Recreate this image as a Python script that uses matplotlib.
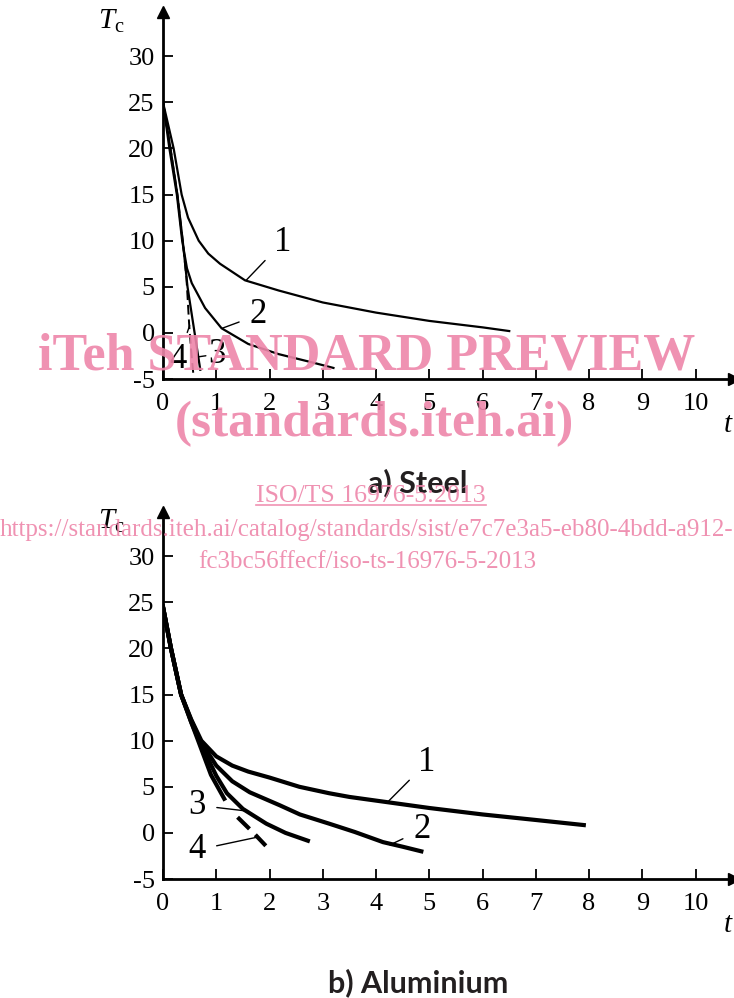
import numpy as np
import matplotlib
matplotlib.use("Agg")
import matplotlib.pyplot as plt
from matplotlib.lines import Line2D

plt.rcParams['font.family'] = ['Liberation Serif', 'DejaVu Serif']
plt.rcParams['axes.unicode_minus'] = False
plt.rcParams['mathtext.fontset'] = 'custom'
plt.rcParams['mathtext.it'] = 'Liberation Serif:italic'
plt.rcParams['mathtext.rm'] = 'Liberation Serif'

# a) Steel
st_t1 = [0, 0.2, 0.35, 0.47, 0.67, 0.85, 1.07, 1.54, 2.17, 3.0, 4.0, 5.0, 6.0, 6.5]
st_T1 = [25, 20, 15, 12.5, 10, 8.6, 7.5, 5.7, 4.6, 3.3, 2.2, 1.3, 0.6, 0.2]
st_t2 = [0, 0.12, 0.26, 0.36, 0.45, 0.54, 0.79, 1.1, 1.6, 2.17, 2.8, 3.2]
st_T2 = [25, 20, 15, 10, 7, 5.4, 2.7, 0.5, -1.2, -2.3, -3.2, -3.8]
st_t3 = [0, 0.14, 0.27, 0.37, 0.46, 0.58, 0.7]
st_T3 = [25, 20, 15, 10, 5, 0.5, -4.0]
st_t4 = [0, 0.14, 0.27, 0.37, 0.44, 0.49, 0.53, 0.57]
st_T4 = [25, 20, 15, 10, 6, 1, -2, -4.5]

# b) Aluminium
al_t1 = [0, 0.15, 0.34, 0.53, 0.72, 1.0, 1.3, 1.6, 2.0, 2.56, 3.12, 3.5, 4.0, 5.0, 6.0, 7.0, 7.9]
al_T1 = [24.5, 20, 15, 12.3, 10, 8.3, 7.3, 6.65, 6.0, 5.0, 4.3, 3.9, 3.5, 2.7, 2.0, 1.4, 0.85]
al_t2 = [0, 0.15, 0.34, 0.53, 0.7, 1.0, 1.3, 1.63, 2.19, 2.57, 3.12, 3.6, 4.13, 4.5, 4.85]
al_T2 = [24.5, 20, 15, 12.2, 10, 7.3, 5.6, 4.4, 3.0, 2.0, 1.0, 0.1, -1.0, -1.5, -2.0]
al_t3 = [0, 0.15, 0.34, 0.53, 0.68, 1.0, 1.2, 1.5, 1.94, 2.3, 2.72]
al_T3 = [24.5, 20, 15, 12, 10, 6.2, 4.3, 2.6, 1.0, 0.0, -0.85]
al_t4 = [0, 0.15, 0.34, 0.53, 0.66, 0.9, 1.15, 1.4, 1.7, 1.93]
al_T4 = [24.5, 20, 15, 12, 10, 6.3, 3.7, 1.7, 0.0, -1.4]

xticks = list(range(0, 11))
yticks = [-5, 0, 5, 10, 15, 20, 25, 30]
ytick_labels = ['-5', '0', '5', '10', '15', '20', '25', '30']

fig = plt.figure(figsize=(7.34, 9.98), dpi=100)


def setup(ax):
    ax.set_xlim(0, 10.72)
    ax.set_ylim(-5, 34.8)
    for s in ['top', 'right']:
        ax.spines[s].set_visible(False)
    for s in ['left', 'bottom']:
        ax.spines[s].set_linewidth(2)
    ax.set_xticks(xticks)
    ax.set_yticks(yticks)
    ax.set_yticklabels(ytick_labels)
    ax.tick_params(direction='in', length=7, width=1.3, labelsize=19, pad=6)
    ax.tick_params(axis='x', pad=10)
    ax.plot(1, 0, '>k', ms=9, transform=ax.transAxes, clip_on=False)
    ax.plot(0, 1, '^k', ms=9, transform=ax.transAxes, clip_on=False)
    ax.text(-0.068, 1.012, r'$T_{\mathrm{c}}$', transform=ax.transAxes,
            fontsize=21, ha='right', va='top')
    ax.text(1.0, -0.125, r'$t$', transform=ax.transAxes, fontsize=21,
            ha='right', va='center')


def label(ax, s, xy, xytext):
    ax.annotate(s, xy=xy, xytext=xytext, fontsize=25, ha='center', va='center',
                arrowprops=dict(arrowstyle='-', lw=1, color='k', shrinkA=6, shrinkB=0))


ax1 = fig.add_axes([163 / 734, 1 - 379 / 998, (734 - 163) / 734, 367 / 998])
setup(ax1)
ax1.plot(st_t1, st_T1, 'k', lw=1.6)
ax1.plot(st_t2, st_T2, 'k', lw=1.6)
ax1.plot(st_t3, st_T3, 'k', lw=1.6)
ax1.plot(st_t4, st_T4, 'k', lw=1.4, dashes=(5, 2.5))
label(ax1, '1', (1.56, 5.7), (2.24, 9.8))
label(ax1, '2', (1.11, 0.5), (1.79, 1.95))
label(ax1, '3', (0.66, -2.6), (1.02, -2.3))
label(ax1, '4', (0.5, 0.8), (0.28, -2.9))

ax2 = fig.add_axes([163 / 734, 1 - 879 / 998, (734 - 163) / 734, 367 / 998])
setup(ax2)
ax2.plot(al_t1, al_T1, 'k', lw=3)
ax2.plot(al_t2, al_T2, 'k', lw=3)
ax2.plot(al_t3, al_T3, 'k', lw=3)
al_t4 = np.array(al_t4)
al_T4 = np.array(al_T4)
m = al_t4 <= 1.15
ax2.plot(al_t4[m], al_T4[m], 'k', lw=3)
ax2.plot(al_t4[~m], al_T4[~m], 'k', lw=3, dashes=(4, 2))
label(ax2, '1', (4.22, 3.36), (4.95, 7.6))
label(ax2, '2', (4.26, -1.3), (4.86, 0.33))
label(ax2, '3', (1.53, 2.4), (0.64, 3.0))
label(ax2, '4', (1.78, -0.45), (0.64, -1.85))

fig.text(418 / 734, 1 - 483 / 998, 'a) Steel', family='Lato', weight='bold',
         fontsize=22, ha='center', va='center', color='#231f20')
fig.text(418 / 734, 1 - 983 / 998, 'b) Aluminium', family='Lato', weight='bold',
         fontsize=22, ha='center', va='center', color='#231f20')

# watermark
pink = '#ee86aa'
fig.text(367 / 734, 1 - 356 / 998, 'iTeh STANDARD PREVIEW', color=pink, alpha=0.9,
         fontsize=37.5, weight='bold', ha='center', va='center', zorder=10)
fig.text(374 / 734, 1 - 424 / 998, '(standards.iteh.ai)', color=pink, alpha=0.9,
         fontsize=37, weight='bold', ha='center', va='center', zorder=10)
iso = fig.text(371 / 734, 1 - 496 / 998, 'ISO/TS 16976-5:2013', color=pink, alpha=0.9,
               fontsize=18.5, ha='center', va='center', zorder=10)
fig.text(367 / 734, 1 - 530 / 998,
         'https://standards.iteh.ai/catalog/standards/sist/e7c7e3a5-eb80-4bdd-a912-',
         color=pink, alpha=0.9, fontsize=18, ha='center', va='center', zorder=10)
fig.text(367 / 734, 1 - 562 / 998, 'fc3bc56ffecf/iso-ts-16976-5-2013', color=pink,
         alpha=0.9, fontsize=18, ha='center', va='center', zorder=10)

fig.canvas.draw()
bb = iso.get_window_extent().transformed(fig.transFigure.inverted())
fig.add_artist(Line2D([bb.x0, bb.x1], [bb.y0 + 0.002, bb.y0 + 0.002], color=pink,
                      alpha=0.9, lw=1.2, transform=fig.transFigure, zorder=10))

fig.savefig('out.png', dpi=100)
